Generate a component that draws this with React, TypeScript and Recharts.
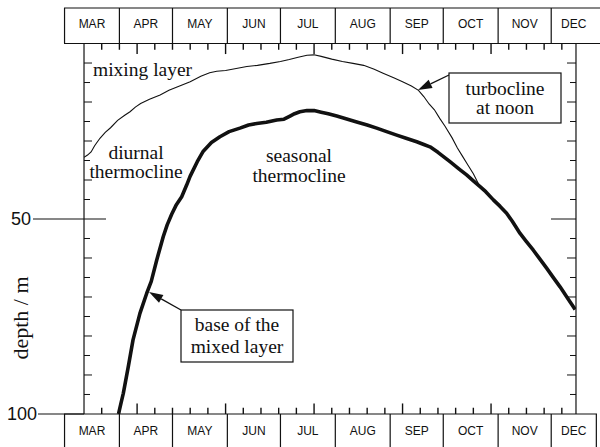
import React from 'react';
import { LineChart, Line, XAxis, YAxis, ReferenceLine } from 'recharts';

// figure geometry (pixels)
const W = 600;
const H = 447;
const PLOT_LEFT = 84;
const PLOT_RIGHT = 576;
const PLOT_TOP = 43.5;
const PLOT_BOTTOM = 414;
const TOP_ROW_Y = 8;
const AXIS_SIZE = 0.01; // axes take no room, ticks are drawn by hand
const INK = '#111111';
const SERIF = '"Liberation Serif", "Times New Roman", Times, serif';
const SANS = '"Liberation Sans", Arial, Helvetica, sans-serif';

const DEPTH_MIN = 5;
const DEPTH_MAX = 100;
// length of the day tick marks, in metres of depth
const TICK_SHORT = 1.6;
const TICK_LONG = 2.7;

// day number (Jan 1 = 0) and depth in metres
const mixDays = [70, 72, 74, 76, 79, 82, 85, 89, 93, 96, 99, 102, 107, 113, 118, 124, 130, 136, 141, 145, 150, 156, 162, 168, 175, 181, 186, 191, 196, 200, 204, 210, 216, 222, 228, 234, 239, 245, 250, 255, 259, 262, 265, 268, 271, 274, 278, 281, 284, 287, 290, 293, 296];
const mixDepth = [34.2, 33.6, 32.8, 31.2, 29.3, 27.8, 26.6, 24.7, 23.4, 22.5, 21.3, 20.4, 19.3, 18.2, 17.0, 15.9, 14.8, 13.4, 12.5, 12.1, 11.9, 11.4, 10.9, 10.6, 10.1, 9.6, 9.1, 8.5, 8.0, 7.9, 8.3, 9.0, 9.6, 10.1, 10.6, 11.6, 12.6, 13.8, 14.8, 15.9, 17.0, 18.6, 20.5, 22.0, 24.2, 26.2, 29.2, 31.8, 34.0, 36.2, 38.4, 41.1, 42.7];

const baseDays = [89.5, 91, 92.2, 95, 97.7, 101.6, 105.4, 108, 111.1, 114.8, 117, 119.6, 122, 125.2, 128, 130, 134, 137.4, 142, 146.8, 152, 158.1, 163, 167.6, 173, 178.9, 183, 186.4, 189, 192, 196, 200, 204, 208, 212.8, 218, 224.1, 230, 235.4, 241, 246.7, 252, 258, 262, 265.5, 270, 276.8, 282, 286.2, 290, 293.8, 297, 301.3, 305, 308.8, 312, 316.4, 320, 323.9, 327, 331.4, 335, 339, 343, 346.5, 347.5];
const baseDepth = [100, 97, 94.7, 87.9, 81.0, 74.2, 69.1, 66.0, 60.5, 54.5, 51.5, 48.7, 46.5, 44.3, 41.3, 39.0, 35.3, 32.6, 30.4, 28.9, 27.6, 26.7, 25.9, 25.5, 25.2, 24.6, 24.4, 23.6, 23.0, 22.5, 22.2, 22.2, 22.6, 23.0, 23.6, 24.3, 25.1, 25.9, 26.7, 27.6, 28.5, 29.3, 30.2, 30.9, 31.5, 32.9, 35.3, 37.2, 38.7, 40.2, 41.7, 43.0, 45.1, 46.7, 48.5, 50.6, 53.7, 55.8, 58.0, 59.9, 62.6, 64.9, 67.4, 70.1, 72.5, 73.2];

const dayTicks = [80, 90, 100, 110, 120, 130, 140, 150, 160, 170, 180, 190, 200, 210, 220, 230, 240, 250, 260, 270, 280, 290, 300, 310, 320, 330, 340];
const depthTicks = [10, 15, 20, 25, 30, 35, 40, 45, 50, 55, 60, 65, 70, 75, 80, 85, 90, 95, 100];

const monthNames = ['MAR', 'APR', 'MAY', 'JUN', 'JUL', 'AUG', 'SEP', 'OCT', 'NOV', 'DEC'];
const monthStarts = [59, 90, 120, 151, 181, 212, 243, 273, 304, 334];
const rowEnd = 359.5; // the month strip is cut at the edge of the page

const monthEdges = [...monthStarts, rowEnd];
const monthMids = monthStarts.map((s, i) => (s + monthEdges[i + 1]) / 2);

const mixData = mixDays.map((d, i) => ({ day: d, depth: mixDepth[i] }));
const baseData = baseDays.map((d, i) => ({ day: d, depth: baseDepth[i] }));

const EdgeTop = ({ x }: any) => (
  <line x1={x} x2={x} y1={TOP_ROW_Y} y2={PLOT_TOP} stroke={INK} strokeWidth={1.2} />
);

const EdgeBottom = ({ x }: any) => (
  <line x1={x} x2={x} y1={PLOT_BOTTOM} y2={H} stroke={INK} strokeWidth={1.2} />
);

const MonthLabel = (baseline: number) => ({ x, payload }: any) => {
  const i = monthMids.indexOf(payload.value);
  return (
    <text x={x} y={baseline} textAnchor="middle" fontFamily={SANS} fontSize={12} fill={INK}>
      {monthNames[i]}
    </text>
  );
};

const DepthTickLeft = ({ y, payload }: any) => {
  const v = payload.value;
  if (v === 50) {
    return (
      <g>
        <line x1={33} x2={PLOT_LEFT + 22} y1={y} y2={y} stroke={INK} strokeWidth={1.1} />
        <text x={31} y={y} dy="0.36em" textAnchor="end" fontFamily={SANS} fontSize={18} fill={INK}>50</text>
      </g>
    );
  }
  if (v === 100) {
    return (
      <g>
        <line x1={38} x2={PLOT_LEFT} y1={y} y2={y} stroke={INK} strokeWidth={1.1} />
        <text x={37} y={y} dy="0.36em" textAnchor="end" fontFamily={SANS} fontSize={18} fill={INK}>100</text>
      </g>
    );
  }
  const len = v % 10 === 0 ? 8 : 6;
  return <line x1={PLOT_LEFT} x2={PLOT_LEFT + len} y1={y} y2={y} stroke={INK} strokeWidth={1} />;
};

const DepthTickRight = ({ y, payload }: any) => {
  const v = payload.value;
  if (v === 100) return <g />;
  const len = v === 50 ? 25 : v % 10 === 0 ? 9 : 6;
  return <line x1={PLOT_RIGHT} x2={PLOT_RIGHT - len} y1={y} y2={y} stroke={INK} strokeWidth={1} />;
};

const Arrow = ({ from, to }: { from: [number, number]; to: [number, number] }) => {
  const dx = to[0] - from[0];
  const dy = to[1] - from[1];
  const l = Math.hypot(dx, dy);
  const ux = dx / l;
  const uy = dy / l;
  const hl = 14;
  const hw = 4.5;
  const bx = to[0] - ux * hl;
  const by = to[1] - uy * hl;
  const pts = `${to[0]},${to[1]} ${bx - uy * hw},${by + ux * hw} ${bx + uy * hw},${by - ux * hw}`;
  return (
    <g>
      <line x1={from[0]} y1={from[1]} x2={bx} y2={by} stroke={INK} strokeWidth={1.3} />
      <polygon points={pts} fill={INK} />
    </g>
  );
};

const serifText = { fontFamily: SERIF, fontSize: 19.5, fill: INK } as const;

const App = () => {
  const xProps = {
    type: 'number' as const,
    dataKey: 'day',
    domain: [70, 348],
    allowDataOverflow: true,
    height: AXIS_SIZE,
    tickLine: false,
    axisLine: false,
    interval: 0 as const,
  };
  return (
    <div style={{ position: 'absolute', left: 0, top: 0, width: W, height: H, background: '#fff' }}>
      <LineChart
        width={W}
        height={H}
        margin={{ top: PLOT_TOP, right: W - PLOT_RIGHT, bottom: H - PLOT_BOTTOM, left: PLOT_LEFT }}
      >
        <XAxis {...xProps} xAxisId="data" orientation="bottom" hide />
        <XAxis {...xProps} xAxisId="monthEdgeTop" orientation="top" ticks={monthStarts} tick={<EdgeTop />} />
        <XAxis {...xProps} xAxisId="monthEdgeBottom" orientation="bottom" ticks={monthEdges} tick={<EdgeBottom />} />
        <XAxis {...xProps} xAxisId="monthTop" orientation="top" ticks={monthMids} tick={MonthLabel(27.5)} />
        <XAxis {...xProps} xAxisId="monthBottom" orientation="bottom" ticks={monthMids} tick={MonthLabel(435)} />
        <YAxis
          yAxisId="left"
          type="number"
          domain={[DEPTH_MIN, DEPTH_MAX]}
          reversed
          allowDataOverflow
          width={AXIS_SIZE}
          ticks={depthTicks}
          interval={0}
          tickLine={false}
          tick={<DepthTickLeft />}
          axisLine={{ stroke: INK, strokeWidth: 1.2 }}
        />
        <YAxis
          yAxisId="right"
          orientation="right"
          type="number"
          domain={[DEPTH_MIN, DEPTH_MAX]}
          reversed
          allowDataOverflow
          width={AXIS_SIZE}
          ticks={depthTicks}
          interval={0}
          tickLine={false}
          tick={<DepthTickRight />}
          axisLine={{ stroke: INK, strokeWidth: 1.2 }}
        />
        {/* inward day ticks along the top and bottom edges */}
        {dayTicks.map((d) => {
          const len = d % 50 === 0 ? TICK_LONG : TICK_SHORT;
          return (
            <ReferenceLine
              key={`t${d}`}
              xAxisId="data"
              yAxisId="left"
              ifOverflow="visible"
              segment={[{ x: d, y: DEPTH_MIN }, { x: d, y: DEPTH_MIN + len }]}
              stroke={INK}
              strokeWidth={1.4}
            />
          );
        })}
        {dayTicks.map((d) => {
          const len = d % 50 === 0 ? TICK_LONG : TICK_SHORT;
          return (
            <ReferenceLine
              key={`b${d}`}
              xAxisId="data"
              yAxisId="left"
              ifOverflow="visible"
              segment={[{ x: d, y: DEPTH_MAX - len }, { x: d, y: DEPTH_MAX }]}
              stroke={INK}
              strokeWidth={1.4}
            />
          );
        })}
        <Line
          xAxisId="data"
          yAxisId="left"
          data={mixData}
          dataKey="depth"
          type="linear"
          stroke={INK}
          strokeWidth={1.1}
          dot={false}
          isAnimationActive={false}
        />
        <Line
          xAxisId="data"
          yAxisId="left"
          data={baseData}
          dataKey="depth"
          type="linear"
          stroke={INK}
          strokeWidth={3.6}
          strokeLinejoin="round"
          dot={false}
          isAnimationActive={false}
        />
      </LineChart>
      <svg width={W} height={H} style={{ position: 'absolute', left: 0, top: 0, pointerEvents: 'none' }}>
        {/* month strips and the top and bottom of the frame */}
        <line x1={64} x2={W} y1={TOP_ROW_Y} y2={TOP_ROW_Y} stroke={INK} strokeWidth={1.2} />
        <line x1={64} x2={W} y1={PLOT_TOP} y2={PLOT_TOP} stroke={INK} strokeWidth={1.2} />
        <line x1={64} x2={597} y1={PLOT_BOTTOM} y2={PLOT_BOTTOM} stroke={INK} strokeWidth={1.2} />

        <text x={28} y={318} transform="rotate(-90 28 318)" textAnchor="middle" fontFamily={SERIF} fontSize={22} fill={INK}>
          depth / m
        </text>

        <text x={93} y={76} {...serifText}>mixing layer</text>
        <text x={136} y={159} textAnchor="middle" {...serifText}>diurnal</text>
        <text x={136} y={178} textAnchor="middle" {...serifText}>thermocline</text>
        <text x={299} y={162} textAnchor="middle" {...serifText}>seasonal</text>
        <text x={299} y={182} textAnchor="middle" {...serifText}>thermocline</text>

        <rect x={449} y={73} width={112} height={50} fill="#fff" stroke={INK} strokeWidth={1.2} />
        <text x={505} y={95} textAnchor="middle" {...serifText}>turbocline</text>
        <text x={505} y={114} textAnchor="middle" {...serifText}>at noon</text>
        <Arrow from={[449, 75]} to={[418, 90]} />

        <rect x={181} y={310} width={112} height={52} fill="#fff" stroke={INK} strokeWidth={1.2} />
        <text x={237} y={331} textAnchor="middle" {...serifText}>base of the</text>
        <text x={237} y={353} textAnchor="middle" {...serifText}>mixed layer</text>
        <Arrow from={[181, 310]} to={[149, 292]} />
      </svg>
    </div>
  );
};

export default App;
